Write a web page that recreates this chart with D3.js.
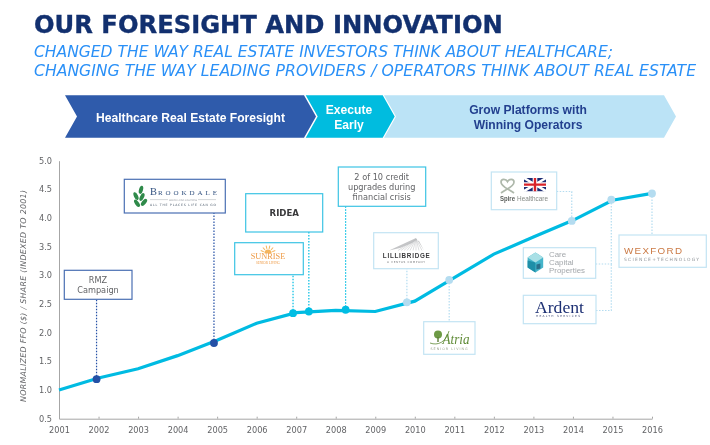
<!DOCTYPE html>
<html><head><meta charset="utf-8">
<script src="https://cdn.jsdelivr.net/npm/d3@7"></script>
<style>html,body{margin:0;padding:0;background:#fff}svg{display:block;filter:blur(0.3px)}</style>
</head><body><svg id="c" width="710" height="445"></svg>
<script>
const titleText = "OUR FORESIGHT AND INNOVATION";
const subtitleLines = ["CHANGED THE WAY REAL ESTATE INVESTORS THINK ABOUT HEALTHCARE;",
  "CHANGING THE WAY LEADING PROVIDERS / OPERATORS THINK ABOUT REAL ESTATE"];
const yAxisTitle = "NORMALIZED FFO ($) / SHARE (INDEXED TO 2001)";
const years = [2001,2002,2003,2004,2005,2006,2007,2008,2009,2010,2011,2012,2013,2014,2015,2016];
const ffo   = [1.0,1.21,1.37,1.6,1.87,2.165,2.35,2.39,2.37,2.55,2.96,3.37,3.67,3.96,4.31,4.43];
const yTicks = [0.5,1,1.5,2,2.5,3,3.5,4,4.5,5];
const eventYears  = [2001.95,2004.92,2006.92,2007.32,2008.25,2009.8,2010.87,2013.97,2014.97,2016];
const eventValues = [1.19,1.82,2.34,2.37,2.40,2.53,2.92,3.95,4.32,4.43];
const eventNames  = ["RMZ","Brookdale","Sunrise","RIDEA","Credit","Lillibridge","Atria","Spire","Care","Wexford"];
const eventTiers  = ["dark","dark","mid","mid","mid","light","light","light","light","light"];
const chevronLabels = [["Healthcare Real Estate Foresight"],["Execute","Early"],["Grow Platforms with","Winning Operators"]];

const tierColor = {dark:"#2450a6", mid:"#00bde3", light:"#b4dcf0"};
const tierBorder = {dark:"#4a6fb3", mid:"#3cc4e4", light:"#c3e4f3"};
const svg = d3.select("#c");
const sans = "'DejaVu Sans',Verdana,sans-serif", arial = "'Liberation Sans',Arial,sans-serif", serif="'Liberation Serif',serif";

// Text squeezed horizontally to a target width, keeping its height
function fitText(s,tx,ty,w,attrs){
  const e=svg.append("text").attr("font-family",sans).text(s);
  Object.entries(attrs).forEach(([k,v])=>e.attr(k,v));
  const n=e.node().getComputedTextLength();
  e.attr("transform",`translate(${tx},${ty}) scale(${w/n},1)`);
  return e;
}
fitText(titleText,34,33,469,{"font-weight":700,"font-size":24.6,fill:"#12306f",stroke:"#12306f","stroke-width":0.35});
const subW=[579,662];
subtitleLines.forEach((t,i)=>fitText(t,34,57.3+i*18.4,subW[i],{"font-style":"italic","font-size":16.2,fill:"#2a90f7"}));

// chevrons
const chev=[{l:65,r:304,fill:"#2f5bab",tc:"#fff",cx:190.5},{l:305.7,r:382.7,fill:"#00bcdf",tc:"#fff",cx:349},{l:384,r:664,fill:"#bbe3f6",tc:"#23408f",cx:528}];
const top0=95.3,bot0=137.7,mid0=(top0+bot0)/2,pt=12;
chev.forEach((c,i)=>{
  svg.append("path").attr("fill",c.fill).attr("d",d3.line()([[c.l,top0],[c.r,top0],[c.r+pt,mid0],[c.r,bot0],[c.l,bot0],[c.l+pt,mid0]])+"Z");
  const L=chevronLabels[i];
  L.forEach((t,j)=>svg.append("text").attr("x",c.cx).attr("y",L.length==1?121.5:114+j*14.8).attr("text-anchor","middle")
    .attr("font-family",arial).attr("font-weight",700).attr("font-size",12.1).attr("fill",c.tc).text(t));
});

// scales & axes
const x=d3.scaleLinear().domain([2001,2016]).range([59,652]);
const y=d3.scaleLinear().domain([0.5,5]).range([418.7,160.7]);
const xAxis=svg.append("g").attr("transform","translate(0,418.7)").call(d3.axisBottom(x).tickValues(years).tickFormat(d3.format("d")).tickSizeInner(-2).tickSizeOuter(0).tickPadding(8));
const yAxis=svg.append("g").attr("transform","translate(59,0)").call(d3.axisLeft(y).tickValues(yTicks).tickFormat(d3.format(".1f")).tickSize(0).tickPadding(7));
[xAxis,yAxis].forEach(a=>{a.selectAll("path,line").attr("stroke","#a6a6a6").attr("stroke-width",1);
  a.selectAll("text").attr("font-family",sans).attr("font-size",8.2).attr("fill","#626366");});
svg.append("text").attr("transform","translate(26,296) rotate(-90)").attr("text-anchor","middle").attr("font-family",sans)
  .attr("font-style","italic").attr("font-size",7.9).attr("fill","#626366").attr("textLength",212).text(yAxisTitle);

// callout boxes (layout)
const boxes={RMZ:[64.3,270.3,132,299.3],Brookdale:[124.3,179.3,225.3,213],Sunrise:[234.7,242.7,303.3,274.7],RIDEA:[245.7,193.7,322.7,232],
 Credit:[338.3,167,425.7,206.3],Lillibridge:[373.7,232.7,438.3,268.7],Atria:[423.7,321.7,475,354.3],Spire:[491.3,172,556.7,209.7],
 Care:[523.3,247.7,595.7,278.3],Ardent:[523.3,295.3,596,323.7],Wexford:[619,235,706.3,267.3]};
const boxTier=n=>n=="Ardent"?"light":eventTiers[eventNames.indexOf(n)];
const leaders=svg.append("g").attr("fill","none").attr("stroke-width",1.2).attr("stroke-dasharray","1.5 1.5");
eventNames.forEach((n,i)=>{
  const px=x(eventYears[i]),py=y(eventValues[i]),b=boxes[n];let pts;
  if(n=="Spire") pts=[[b[2],191.5],[px,191.5],[px,py]];
  else if(n=="Care") pts=[[b[2],264],[px,264],[px,py]];
  else { const edge= py>b[3]?b[3]:b[1]; pts=[[px,py],[px,edge]]; }
  leaders.append("path").attr("stroke",tierColor[eventTiers[i]]).attr("d",d3.line()(pts));
});
{const i=eventNames.indexOf("Care");leaders.append("path").attr("stroke",tierColor.light)
  .attr("d",d3.line()([[boxes.Ardent[2],310.5],[x(eventYears[i]),310.5],[x(eventYears[i]),264]]));}
Object.entries(boxes).forEach(([n,b])=>svg.append("rect").attr("x",b[0]).attr("y",b[1]).attr("width",b[2]-b[0]).attr("height",b[3]-b[1])
  .attr("fill","#fff").attr("stroke",tierBorder[boxTier(n)]).attr("stroke-width",1.2));

// line & dots
svg.append("path").datum(years.map((d,i)=>[d,ffo[i]])).attr("fill","none").attr("stroke","#00bbe2").attr("stroke-width",3.2)
  .attr("d",d3.line().x(d=>x(d[0])).y(d=>y(d[1])));
svg.selectAll("circle.ev").data(eventYears).join("circle").attr("class","ev").attr("cx",d=>x(d)).attr("cy",(d,i)=>y(eventValues[i])).attr("r",3.9)
  .attr("fill",(d,i)=>tierColor[eventTiers[i]]);

// box contents
const T=(tx,ty,s,size,fill,o={})=>{const e=svg.append("text").attr("x",tx).attr("y",ty).attr("font-family",o.f||sans).attr("font-size",size).attr("fill",fill)
  .attr("text-anchor",o.a||"middle").text(s);
  if(o.w)e.attr("font-weight",o.w); if(o.st)e.attr("font-style",o.st);
  if(o.tl)e.attr("textLength",o.tl).attr("lengthAdjust",o.sp?"spacing":"spacingAndGlyphs"); return e;};
T(98,283.3,"RMZ",8.2,"#626366"); T(98,292.8,"Campaign",8.2,"#626366");
T(284.3,216.3,"RIDEA",8.6,"#3a3a3c",{w:700});
["2 of 10 credit","upgrades during","financial crisis"].forEach((s,i)=>T(381.7,180.3+i*9.7,s,8.2,"#626366"));

// Brookdale
[[-2,7,-35],[3,0,25],[-3,-1,-25],[2,-8,15],[5,6,40]].forEach(d=>svg.append("ellipse").attr("transform",`translate(${139+d[0]},${197+d[1]*.9}) rotate(${d[2]})`)
  .attr("rx",2).attr("ry",4.2).attr("fill","#2f8a4a"));
T(150,195.3,"B",10.4,"#30507f",{f:serif,a:"start"}); T(158,195.3,"ROOKDALE",7,"#30507f",{f:serif,a:"start",tl:59,sp:true});
[[150,168],[198,216]].forEach(p=>svg.append("line").attr("x1",p[0]).attr("x2",p[1]).attr("y1",199.6).attr("y2",199.6).attr("stroke","#c2c6ca").attr("stroke-width",.7));
T(183,200.5,"SENIOR LIVING SOLUTIONS",2.3,"#9a9fa5",{tl:28});
T(183,206,"ALL THE PLACES LIFE CAN GO",3.1,"#4b5a6b",{tl:66,sp:true});

// Sunrise
const sx=268,sy=249;
svg.append("path").attr("fill","#f4b55e").attr("d",d3.arc()({innerRadius:0,outerRadius:3.6,startAngle:-Math.PI/2,endAngle:Math.PI/2})).attr("transform",`translate(${sx},${sy+4.2})`);
d3.range(-70,71,28).forEach(a=>svg.append("line").attr("x1",sx).attr("y1",sy-3.5).attr("x2",sx).attr("y2",sy-.3).attr("stroke","#f4b55e").attr("stroke-width",1)
  .attr("transform",`rotate(${a} ${sx} ${sy+4.2})`));
T(268,259.2,"SUNRISE",8,"#ee9a45",{f:serif,tl:34.5});
T(268,264,"SENIOR LIVING",3,"#ee9a45",{f:serif,tl:24});

// Lillibridge
svg.append("path").attr("fill","#c4c5c7").attr("d","M389,250.5 L416,238 L424,250.5 L419,241 L416,240 L412,243 L400,248 Z");
d3.range(0,9).forEach(k=>svg.append("line").attr("x1",416).attr("y1",239).attr("x2",398+k*3).attr("y2",250.5).attr("stroke","#bdbec0").attr("stroke-width",.5));
T(406.3,258,"LILLIBRIDGE",6.3,"#3a3a3c",{w:700,f:arial,tl:47,sp:true});
T(406,263.3,"A VENTAS COMPANY",2.8,"#77787b",{tl:38,sp:true});

// Atria
svg.append("circle").attr("cx",438).attr("cy",334.5).attr("r",4).attr("fill","#6d9a45");
svg.append("rect").attr("x",437.3).attr("y",337).attr("width",1.4).attr("height",5).attr("fill","#5b7c35");
svg.append("path").attr("fill","none").attr("stroke","#5e8a35").attr("stroke-width",.8).attr("d","M430,343 C438,346 446,342 449,331");
T(456,343.5,"Atria",15,"#5e8a35",{f:serif,st:"italic",tl:27});
T(449,349.5,"SENIOR LIVING",3.3,"#9aa38d",{tl:37,sp:true});

// Spire + flag
svg.append("path").attr("fill","none").attr("stroke","#aeb8ab").attr("stroke-width",1.7)
  .attr("d","M501,193 C506,189 514,187 514,182 C514,178.5 509,178.5 507.5,181.5 C506,178.5 501,178.5 501,182 C501,187 509,189 514,193");
const fx=524,fy=178,fw=22,fh=13.2,flag=svg.append("g");
flag.append("rect").attr("x",fx).attr("y",fy).attr("width",fw).attr("height",fh).attr("fill","#1c2c73");
flag.append("path").attr("stroke","#fff").attr("stroke-width",2.6).attr("d",`M${fx},${fy}L${fx+fw},${fy+fh}M${fx+fw},${fy}L${fx},${fy+fh}`);
flag.append("path").attr("stroke","#fff").attr("stroke-width",4.6).attr("d",`M${fx+fw/2},${fy}V${fy+fh}M${fx},${fy+fh/2}H${fx+fw}`);
flag.append("path").attr("stroke","#d8232a").attr("stroke-width",2.4).attr("d",`M${fx+fw/2},${fy}V${fy+fh}M${fx},${fy+fh/2}H${fx+fw}`);
T(500,201,"Spire",6.8,"#5b5f5c",{f:arial,a:"start",w:700,tl:15});
T(517,201,"Healthcare",6.8,"#868b87",{f:arial,a:"start",tl:31});

// Care Capital
const hx=535.4,hy=262.4;
const hex=d3.range(6).map(k=>[hx+9*Math.sin(k*Math.PI/3),hy+10*Math.cos(k*Math.PI/3)]);
svg.append("path").attr("fill","#45b4ca").attr("d",d3.line()(hex)+"Z");
svg.append("path").attr("fill","#1f8fa8").attr("d",d3.line()([[hx,hy],[hx,hy+10],[hx-7.8,hy+5],[hx-7.8,hy-2]])+"Z");
svg.append("path").attr("fill","#a9e0e6").attr("d",d3.line()([[hx,hy-10],[hx+7.8,hy-5],[hx,hy],[hx-7.8,hy-5]])+"Z");
svg.append("path").attr("fill","#2b6f8a").attr("d",d3.line()([[hx+1,hy+2],[hx+5,hy+1],[hx+5,hy+6],[hx+1,hy+7]])+"Z");
["Care","Capital","Properties"].forEach((s,i)=>T(549,257.3+i*7.7,s,7.9,"#a3a7ab",{f:arial,a:"start"}));

// Ardent
T(559.5,312.5,"Ardent",16,"#1c2f73",{f:serif,tl:49});
T(558,317.2,"HEALTH SERVICES",2.9,"#3a4470",{tl:44,sp:true});

// Wexford
T(624,253.7,"WEXFORD",9.8,"#cb7a45",{f:arial,a:"start",tl:58,sp:true});
T(624,260.6,"SCIENCE+TECHNOLOGY",4.4,"#8f9499",{a:"start",tl:75,sp:true});
</script></body></html>
